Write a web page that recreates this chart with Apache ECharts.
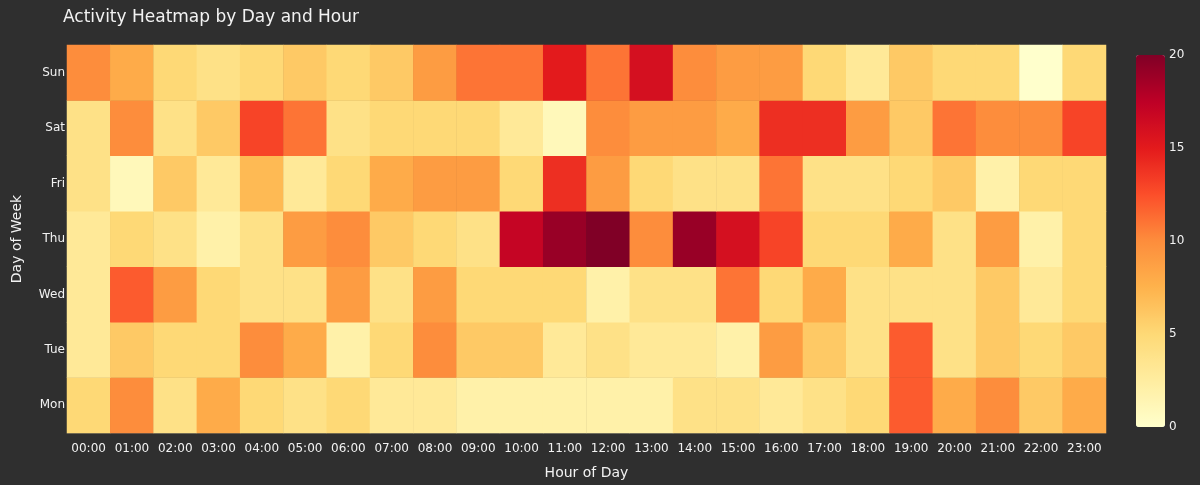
<!DOCTYPE html>
<html>
<head>
<meta charset="utf-8">
<script src="https://cdn.jsdelivr.net/npm/echarts@6/dist/echarts.min.js"></script>
<style>
html,body{margin:0;padding:0;background:#2f2f2f;}
#chart{width:1200px;height:485px;}
</style>
</head>
<body>
<div id="chart"></div>
<script>
const hours = ["00:00","01:00","02:00","03:00","04:00","05:00","06:00","07:00","08:00","09:00","10:00","11:00","12:00","13:00","14:00","15:00","16:00","17:00","18:00","19:00","20:00","21:00","22:00","23:00"];
const days = ["Mon","Tue","Wed","Thu","Fri","Sat","Sun"];
const colorbarTicks = [0,5,10,15,20];

const mon = [5,10,4,8,5,4,5,3,3,2,2,2,2,2,4,4,3,4,5,12,8,10,6,8];
const tue = [3,6,5,5,10,8,2,5,10,6,6,3,4,3,3,2,9,6,4,12,4,6,5,6];
const wed = [3,12,9,5,4,4,9,4,9,5,5,5,2,4,4,11,5,8,4,4,4,6,3,5];
const thu = [3,5,4,2,4,9,10,6,5,4,17,19,20,10,19,16,13,5,5,8,4,9,2,5];
const fri = [4,1,6,3,7,3,5,8,9,9,5,14,9,5,4,4,11,4,4,5,6,2,5,5];
const sat = [4,10,4,6,13,11,4,5,5,5,3,1,10,9,9,8,14,14,9,6,11,10,10,13];
const sun = [10,8,5,4,5,6,5,6,9,11,11,15,11,16,10,9,9,5,3,6,5,5,0,5];

const rows = [mon,tue,wed,thu,fri,sat,sun];
const heatData = [];
rows.forEach((r, yi) => r.forEach((v, xi) => heatData.push([xi, yi, v])));

const FONT = '"DejaVu Sans", verdana, sans-serif';
const TXT = '#f2f2f2';

const chart = echarts.init(document.getElementById('chart'));
chart.setOption({
  backgroundColor: '#2f2f2f',
  animation: false,
  title: {
    text: 'Activity Heatmap by Day and Hour',
    left: 58, top: 4,
    textStyle: {color: TXT, fontSize: 17, fontWeight: 'normal', fontFamily: FONT}
  },
  grid: [
    {left: 67, right: 94, top: 45, bottom: 50, containLabel: false},
    {left: 1136, width: 29, top: 55, height: 372}
  ],
  xAxis: [
    {
      type: 'category', data: hours, gridIndex: 0,
      name: 'Hour of Day', nameLocation: 'middle', nameGap: 33,
      nameTextStyle: {color: TXT, fontSize: 14, fontFamily: FONT},
      axisLine: {show: true, lineStyle: {color: '#444'}},
      axisTick: {show: false},
      splitLine: {show: false},
      axisLabel: {color: TXT, fontSize: 12, fontFamily: FONT, interval: 0, margin: 10}
    },
    {type: 'value', gridIndex: 1, show: false, min: 0, max: 1}
  ],
  yAxis: [
    {
      type: 'category', data: days, gridIndex: 0,
      name: 'Day of Week', nameLocation: 'middle', nameGap: 43, nameRotate: 90,
      nameTextStyle: {color: TXT, fontSize: 14, fontFamily: FONT},
      axisLine: {show: false}, axisTick: {show: false},
      splitLine: {show: false},
      axisLabel: {color: TXT, fontSize: 12, fontFamily: FONT, margin: 2}
    },
    {
      type: 'value', gridIndex: 1, min: 0, max: 20, interval: 5, position: 'right',
      axisLine: {show: false}, axisTick: {show: false}, splitLine: {show: false},
      axisLabel: {color: TXT, fontSize: 12, fontFamily: FONT, margin: 4,
        formatter: v => colorbarTicks.includes(v) ? String(v) : ''}
    }
  ],
  visualMap: {
    type: 'continuous', min: 0, max: 20, seriesIndex: 0,
    calculable: false, show: true, text: null, showLabel: false,
    orient: 'vertical', left: 1136, top: 55, padding: 0,
    itemWidth: 29, itemHeight: 372,
    inRange: {color: ['#ffffcc','#ffeda0','#fed976','#feb24c','#fd8d3c','#fc4e2a','#e31a1c','#bd0026','#800026']},
    textStyle: {color: TXT}
  },
  series: [{
    type: 'heatmap', xAxisIndex: 0, yAxisIndex: 0,
    data: heatData,
    itemStyle: {borderWidth: 0},
    emphasis: {disabled: true}
  }]
});
</script>
</body>
</html>
